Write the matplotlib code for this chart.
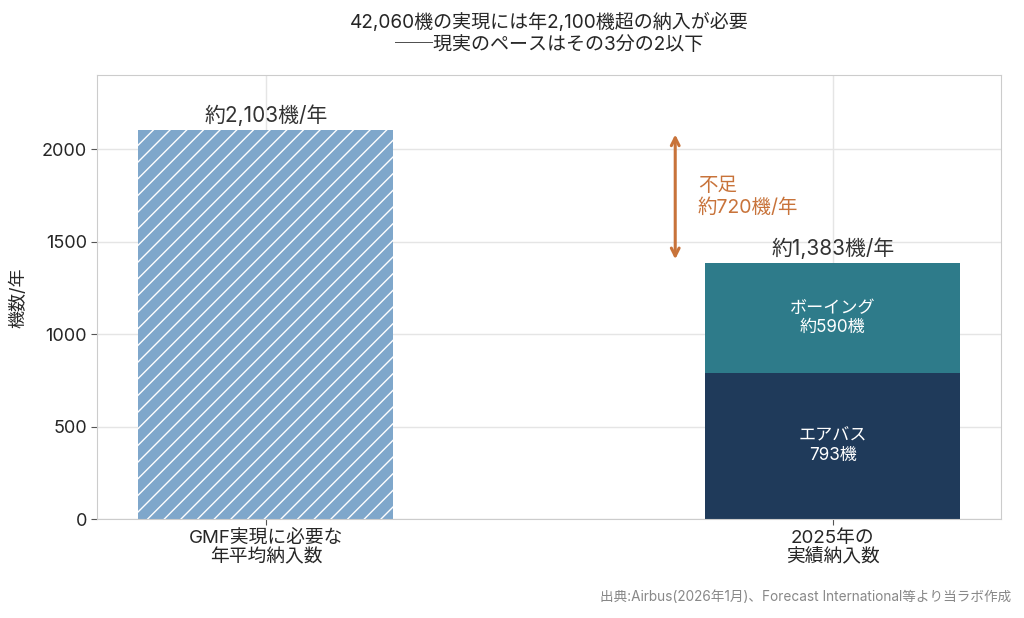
import matplotlib.pyplot as plt
import seaborn as sns

sns.set_style('whitegrid')
plt.rcParams['font.family'] = ['Inter', 'Noto Sans CJK JP', 'DejaVu Sans']
plt.rcParams['hatch.color'] = 'white'
plt.rcParams['hatch.linewidth'] = 1.0

categories = ['GMF実現に必要な\n年平均納入数', '2025年の\n実績納入数']
required = 2103
airbus = 793
boeing = 590
actual = airbus + boeing
gap = 720

c_req = '#7FA7CB'
c_airbus = '#1F3A5A'
c_boeing = '#2E7B8A'
c_gap = '#C8733A'

fig, ax = plt.subplots(figsize=(10.24, 6.18), dpi=100)
w = 0.45

ax.bar(0, required, width=w, color=c_req, hatch='//', edgecolor='white', linewidth=0)
ax.bar(1, airbus, width=w, color=c_airbus, linewidth=0)
ax.bar(1, boeing, width=w, bottom=airbus, color=c_boeing, linewidth=0)

ax.text(0, required + 25, f'約{required:,}機/年', ha='center', va='bottom', fontsize=15, color='#333333')
ax.text(1, actual + 25, f'約{actual:,}機/年', ha='center', va='bottom', fontsize=15, color='#333333')
ax.text(1, airbus / 2, f'エアバス\n{airbus}機', ha='center', va='center', fontsize=12.3, color='white')
ax.text(1, airbus + boeing / 2, f'ボーイング\n約{boeing}機', ha='center', va='center', fontsize=12.3, color='white')

ax.annotate('', xy=(0.722, required), xytext=(0.722, actual),
            arrowprops=dict(arrowstyle='<->', color=c_gap, lw=2.2, mutation_scale=14,
                            shrinkA=3, shrinkB=3))
ax.text(0.762, (required + actual) / 2, f'不足\n約{gap}機/年', ha='left', va='center',
        fontsize=14, color=c_gap)

ax.set_xticks([0, 1])
ax.set_xticklabels(categories, fontsize=13.5)
ax.set_ylim(0, 2400)
ax.set_yticks([0, 500, 1000, 1500, 2000])
ax.tick_params(axis='y', labelsize=13, length=4, color='#555555', left=True)
ax.tick_params(axis='x', length=4, color='#555555', bottom=True)
ax.set_ylabel('機数/年', fontsize=13, labelpad=10)
for s in ax.spines.values():
    s.set_color('#cccccc')
ax.grid(color='#e5e5e5', linewidth=1)

ax.set_title('42,060機の実現には年2,100機超の納入が必要\n──現実のペースはその3分の2以下',
             fontsize=13.7, pad=18, linespacing=1.3)
fig.text(0.988, 0.022, '出典:Airbus(2026年1月)、Forecast International等より当ラボ作成',
         ha='right', va='bottom', fontsize=9.8, color='#888888')

fig.subplots_adjust(left=0.095, right=0.978, top=0.878, bottom=0.16)
fig.savefig('out.png', dpi=100)
